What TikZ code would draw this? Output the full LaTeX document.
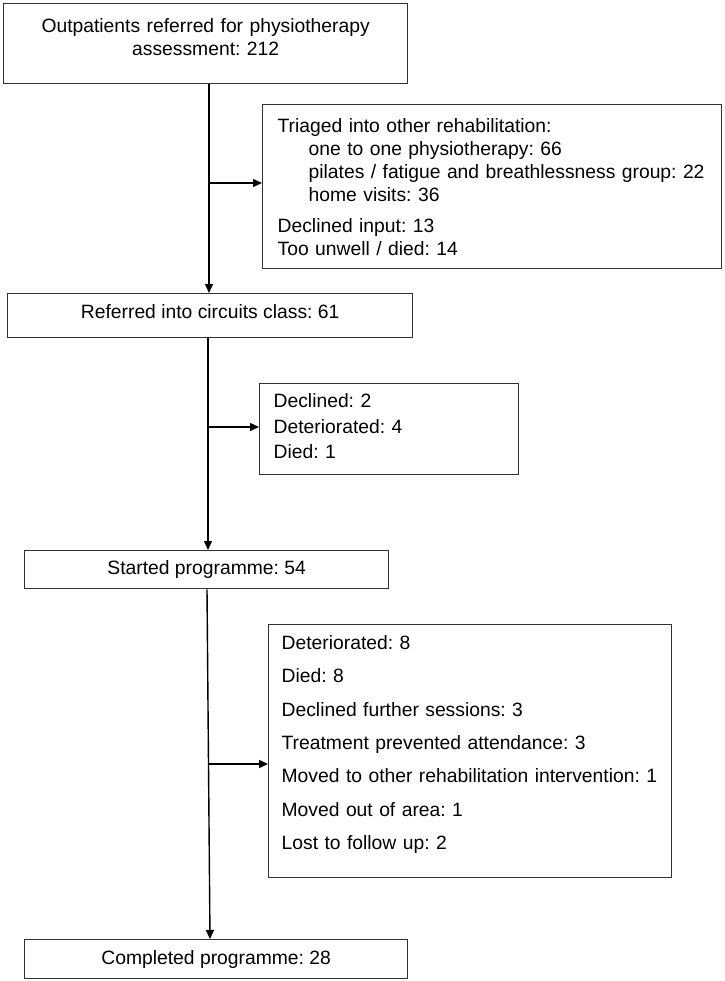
\documentclass[tikz,border=0pt]{standalone}
\usepackage{fontspec}
\setmainfont{Liberation Sans}
\frenchspacing
\usetikzlibrary{positioning,arrows.meta}

\begin{document}
\begin{tikzpicture}[x=1pt, y=-1pt,
        block/.style={rectangle, draw=black!80, line width=1.3pt, inner sep=2pt, anchor=north west, font=\fontsize{19.3}{23}\selectfont},
        note/.style={block, align=left},
        line/.style={draw, -{Triangle[length=9pt,width=8pt]}, line width=1.4pt}]
        \useasboundingbox (0,0) rectangle (724,981);

        \node [block, text width=400pt, align=center, minimum height=80pt, text depth=36pt] (refer) at (3,3) {Outpatients referred for physiotherapy\\assessment: 212};
        \node [note, inner xsep=15pt, text width=429pt, minimum height=164pt] (triage) at (262,104) {Triaged into other rehabilitation:\\
            \hspace*{31pt}one to one physiotherapy: 66\\
            \hspace*{31pt}pilates / fatigue and breathlessness group: 22\\
            \hspace*{31pt}home visits: 36\\[8pt]
            Declined input: 13\\
            Too unwell / died: 14};
        \node [block, minimum width=405pt, minimum height=44pt, text depth=8pt] (circuit) at (7,293) {Referred into circuits class: 61};
        \node [note, inner xsep=14pt, text width=231pt, minimum height=91pt, text depth=57pt, font=\fontsize{19.3}{25.5}\selectfont] (lost1) at (259,383) {Declined: 2\\Deteriorated: 4\\Died: 1};
        \node [block, minimum width=364pt, minimum height=38pt] (start) at (24,550) {Started programme: 54};
        \node [note, inner xsep=13pt, text width=377pt, minimum height=253pt, text depth=217pt, font=\fontsize{19.3}{33.3}\selectfont] (lost2) at (268,624) {Deteriorated: 8\\
            Died: 8\\
            Declined further sessions: 3\\
            Treatment prevented attendance: 3\\
            Moved to other rehabilitation intervention: 1\\
            Moved out of area: 1\\
            Lost to follow up: 2};
        \node [block, minimum width=383pt, minimum height=39pt] (done) at (24,939) {Completed programme: 28};

        % junctions on the main line
        \coordinate (j1) at (209,183);
        \coordinate (j2) at (208,427);
        \coordinate (j3) at (208.5,764);
        \coordinate (s3) at (207,0);
        \coordinate (e3) at (210,0);

        \path [line] (refer.south -| j1) -- (circuit.north -| j1);
        \path [line] (j1) -- (j1 -| triage.west);
        \path [line] (circuit.south -| j2) -- (start.north -| j2);
        \path [line] (j2) -- (j2 -| lost1.west);
        \path [line] (start.south -| s3) -- (done.north -| e3);
        \path [line] (j3) -- (j3 -| lost2.west);
    \end{tikzpicture}
\end{document}
